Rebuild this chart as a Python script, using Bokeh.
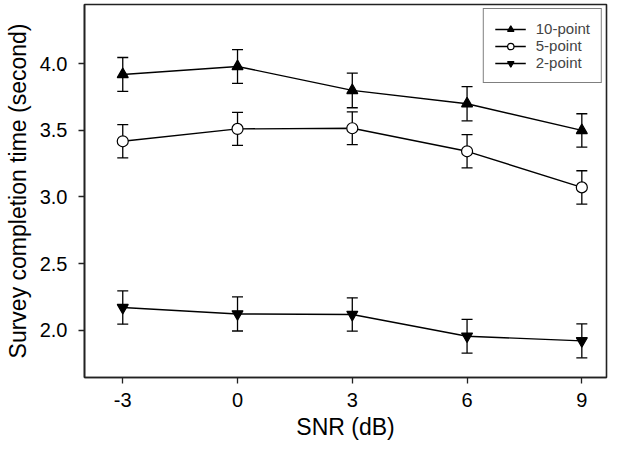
from bokeh.plotting import figure
from bokeh.models import (ColumnDataSource, Whisker, TeeHead, Legend, LegendItem,
                          FixedTicker, PrintfTickFormatter, Range1d)
from bokeh.embed import file_html
from bokeh.resources import INLINE

snr = [-3, 0, 3, 6, 9]
x_ticks = [-3, 0, 3, 6, 9]
x_tick_labels = ["-3", "0", "3", "6", "9"]
y_ticks = [2.0, 2.5, 3.0, 3.5, 4.0]

ten_mean = [3.92, 3.98, 3.80, 3.70, 3.50]
ten_err = [0.127, 0.127, 0.13, 0.128, 0.125]
five_mean = [3.418, 3.511, 3.516, 3.343, 3.072]
five_err = [0.125, 0.124, 0.123, 0.125, 0.125]
two_mean = [2.170, 2.122, 2.118, 1.955, 1.920]
two_err = [0.125, 0.128, 0.125, 0.127, 0.127]

series = [
    ("10-point", ten_mean, ten_err, "triangle", "black"),
    ("5-point", five_mean, five_err, "circle", "white"),
    ("2-point", two_mean, two_err, "inverted_triangle", "black"),
]

FONT = "Liberation Sans"

p = figure(width=608, height=444, output_backend="svg", toolbar_location=None,
           x_range=Range1d(-4, 9.645), y_range=Range1d(1.645, 4.445),
           min_border_left=84, min_border_right=2, min_border_top=4, min_border_bottom=67)
p.background_fill_color = "white"
p.border_fill_color = "white"
p.outline_line_color = "#222222"
p.outline_line_width = 1.6
p.xgrid.visible = False
p.ygrid.visible = False

for ax in (p.xaxis[0], p.yaxis[0]):
    ax.axis_line_color = "#222222"
    ax.axis_line_width = 1.6
    ax.major_tick_line_color = "#222222"
    ax.major_tick_line_width = 1.3
    ax.major_tick_out = 6
    ax.major_tick_in = 0
    ax.minor_tick_line_color = None
    ax.major_label_text_font = FONT
    ax.major_label_text_font_size = "20px"
    ax.major_label_text_color = "black"
    ax.axis_label_text_font = FONT
    ax.axis_label_text_font_size = "23px"
    ax.axis_label_text_font_style = "normal"
    ax.axis_label_text_color = "black"

p.xaxis.ticker = FixedTicker(ticks=x_ticks)
p.xaxis.major_label_overrides = {t: s for t, s in zip(x_ticks, x_tick_labels)}
p.yaxis.ticker = FixedTicker(ticks=y_ticks)
p.yaxis.formatter = PrintfTickFormatter(format="%.1f")
p.xaxis.axis_label = "SNR (dB)"
p.yaxis.axis_label = "Survey completion time (second)"
p.xaxis.major_label_standoff = 9
p.yaxis.major_label_standoff = 11
p.xaxis.axis_label_standoff = 4
p.yaxis.axis_label_standoff = 6

items = []
for name, mean, err, marker, fill in series:
    src = ColumnDataSource(dict(
        x=snr, y=mean,
        upper=[m + e for m, e in zip(mean, err)],
        lower=[m - e for m, e in zip(mean, err)],
    ))
    ln = p.line("x", "y", source=src, line_color="black", line_width=1.4)
    w = Whisker(source=src, base="x", upper="upper", lower="lower", dimension="height",
                line_color="black", line_width=1.3,
                upper_head=TeeHead(size=11, line_color="black", line_width=1.3),
                lower_head=TeeHead(size=11, line_color="black", line_width=1.3))
    p.add_layout(w)
    sc = p.scatter("x", "y", source=src, marker=marker, size=11,
                   fill_color=fill, line_color="black", line_width=1.2)
    items.append(LegendItem(label=name, renderers=[ln, sc]))

legend = Legend(items=items, location="top_right", margin=4,
                border_line_color="black", border_line_width=1.2,
                background_fill_color="white", background_fill_alpha=1,
                label_text_font=FONT, label_text_font_size="15px",
                glyph_width=31, glyph_height=16, label_height=16,
                label_standoff=10, padding=11, spacing=0)
p.add_layout(legend)

open("out.html", "w").write(file_html(p, INLINE))
